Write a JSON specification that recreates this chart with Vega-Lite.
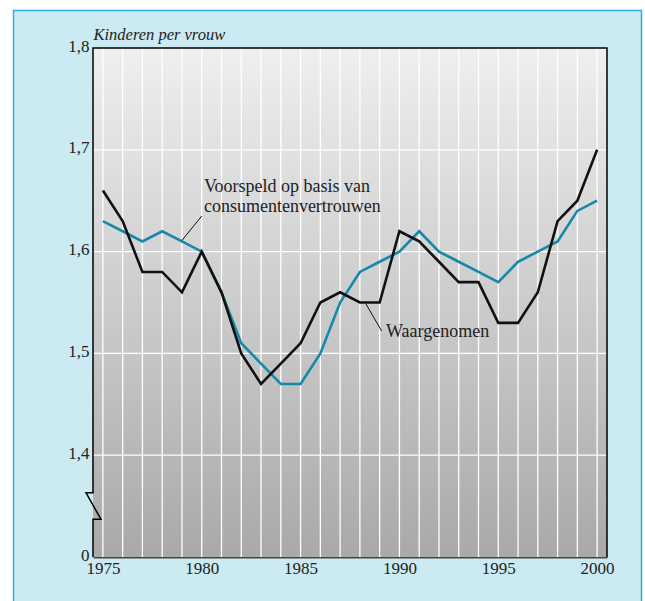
{
  "$schema": "https://vega.github.io/schema/vega-lite/v6.json",
  "width": 514,
  "height": 509,
  "autosize": "none",
  "padding": {"left": 93, "top": 48, "right": 38, "bottom": 44},
  "background": "#cbeaf2",
  "config": {
    "view": {"stroke": null},
    "axis": {"grid": false, "ticks": false, "labelFont": "Liberation Serif", "labelFontSize": 17, "labelColor": "#222222", "zindex": 1},
    "axisX": {"domainColor": "#444444", "domainWidth": 2.2, "labelPadding": 3},
    "axisY": {"domain": false, "labelPadding": 4}
  },
  "datasets": {
    "series": [
      {"year": 1975, "value": 1.63, "series": "Voorspeld"},
      {"year": 1976, "value": 1.62, "series": "Voorspeld"},
      {"year": 1977, "value": 1.61, "series": "Voorspeld"},
      {"year": 1978, "value": 1.62, "series": "Voorspeld"},
      {"year": 1979, "value": 1.61, "series": "Voorspeld"},
      {"year": 1980, "value": 1.60, "series": "Voorspeld"},
      {"year": 1981, "value": 1.56, "series": "Voorspeld"},
      {"year": 1982, "value": 1.51, "series": "Voorspeld"},
      {"year": 1983, "value": 1.49, "series": "Voorspeld"},
      {"year": 1984, "value": 1.47, "series": "Voorspeld"},
      {"year": 1985, "value": 1.47, "series": "Voorspeld"},
      {"year": 1986, "value": 1.50, "series": "Voorspeld"},
      {"year": 1987, "value": 1.55, "series": "Voorspeld"},
      {"year": 1988, "value": 1.58, "series": "Voorspeld"},
      {"year": 1989, "value": 1.59, "series": "Voorspeld"},
      {"year": 1990, "value": 1.60, "series": "Voorspeld"},
      {"year": 1991, "value": 1.62, "series": "Voorspeld"},
      {"year": 1992, "value": 1.60, "series": "Voorspeld"},
      {"year": 1993, "value": 1.59, "series": "Voorspeld"},
      {"year": 1994, "value": 1.58, "series": "Voorspeld"},
      {"year": 1995, "value": 1.57, "series": "Voorspeld"},
      {"year": 1996, "value": 1.59, "series": "Voorspeld"},
      {"year": 1997, "value": 1.60, "series": "Voorspeld"},
      {"year": 1998, "value": 1.61, "series": "Voorspeld"},
      {"year": 1999, "value": 1.64, "series": "Voorspeld"},
      {"year": 2000, "value": 1.65, "series": "Voorspeld"},
      {"year": 1975, "value": 1.66, "series": "Waargenomen"},
      {"year": 1976, "value": 1.63, "series": "Waargenomen"},
      {"year": 1977, "value": 1.58, "series": "Waargenomen"},
      {"year": 1978, "value": 1.58, "series": "Waargenomen"},
      {"year": 1979, "value": 1.56, "series": "Waargenomen"},
      {"year": 1980, "value": 1.60, "series": "Waargenomen"},
      {"year": 1981, "value": 1.56, "series": "Waargenomen"},
      {"year": 1982, "value": 1.50, "series": "Waargenomen"},
      {"year": 1983, "value": 1.47, "series": "Waargenomen"},
      {"year": 1984, "value": 1.49, "series": "Waargenomen"},
      {"year": 1985, "value": 1.51, "series": "Waargenomen"},
      {"year": 1986, "value": 1.55, "series": "Waargenomen"},
      {"year": 1987, "value": 1.56, "series": "Waargenomen"},
      {"year": 1988, "value": 1.55, "series": "Waargenomen"},
      {"year": 1989, "value": 1.55, "series": "Waargenomen"},
      {"year": 1990, "value": 1.62, "series": "Waargenomen"},
      {"year": 1991, "value": 1.61, "series": "Waargenomen"},
      {"year": 1992, "value": 1.59, "series": "Waargenomen"},
      {"year": 1993, "value": 1.57, "series": "Waargenomen"},
      {"year": 1994, "value": 1.57, "series": "Waargenomen"},
      {"year": 1995, "value": 1.53, "series": "Waargenomen"},
      {"year": 1996, "value": 1.53, "series": "Waargenomen"},
      {"year": 1997, "value": 1.56, "series": "Waargenomen"},
      {"year": 1998, "value": 1.63, "series": "Waargenomen"},
      {"year": 1999, "value": 1.65, "series": "Waargenomen"},
      {"year": 2000, "value": 1.70, "series": "Waargenomen"}
    ],
    "gridx": [
      {"year": 1975}, {"year": 1976}, {"year": 1977}, {"year": 1978}, {"year": 1979},
      {"year": 1980}, {"year": 1981}, {"year": 1982}, {"year": 1983}, {"year": 1984},
      {"year": 1985}, {"year": 1986}, {"year": 1987}, {"year": 1988}, {"year": 1989},
      {"year": 1990}, {"year": 1991}, {"year": 1992}, {"year": 1993}, {"year": 1994},
      {"year": 1995}, {"year": 1996}, {"year": 1997}, {"year": 1998}, {"year": 1999},
      {"year": 2000}
    ],
    "gridy": [{"value": 1.4}, {"value": 1.5}, {"value": 1.6}, {"value": 1.7}],
    "frame": [
      {"year": 1974.5, "value": 1.3, "order": 1},
      {"year": 1974.5, "value": 1.337, "order": 2},
      {"year": 1974.905, "value": 1.337, "order": 3},
      {"year": 1974.146, "value": 1.363, "order": 4},
      {"year": 1974.5, "value": 1.363, "order": 5},
      {"year": 1974.5, "value": 1.8, "order": 6},
      {"year": 2000.5, "value": 1.8, "order": 7},
      {"year": 2000.5, "value": 1.3, "order": 8}
    ],
    "leaders": [
      {"x": 1980.0, "y": 1.635, "x2": 1979.0, "y2": 1.611},
      {"x": 1988.31, "y": 1.5485, "x2": 1989.1, "y2": 1.522}
    ],
    "labels": [
      {"x": 1980.11, "y": 1.6583, "text": "Voorspeld op basis van\nconsumentenvertrouwen"},
      {"x": 1989.32, "y": 1.5158, "text": "Waargenomen"}
    ]
  },
  "layer": [
    {
      "data": {"values": [{}]},
      "mark": {"type": "rect", "fill": {"gradient": "linear", "x1": 0, "y1": 0, "x2": 0, "y2": 1, "stops": [{"offset": 0, "color": "#efefef"}, {"offset": 1, "color": "#a9a9a9"}]}},
      "encoding": {
        "x": {
          "datum": 1974.5, "type": "quantitative",
          "scale": {"domain": [1974.5, 2000.5], "nice": false, "zero": false},
          "axis": {"values": [1975, 1980, 1985, 1990, 1995, 2000], "format": "d", "title": null, "grid": false}
        },
        "x2": {"datum": 2000.5},
        "y": {
          "datum": 1.3, "type": "quantitative",
          "scale": {"domain": [1.3, 1.8], "nice": false, "zero": false},
          "axis": {
            "values": [1.3, 1.4, 1.5, 1.6, 1.7, 1.8],
            "labelExpr": "datum.value < 1.35 ? '0' : replace(format(datum.value, '.1f'), '.', ',')",
            "grid": false,
            "labelBaseline": "middle",
            "labelOffset": -2,
            "title": "Kinderen per vrouw",
            "titleAngle": 0,
            "titleAlign": "left",
            "titleBaseline": "alphabetic",
            "titleX": 0,
            "titleY": -9,
            "titleFont": "Liberation Serif",
            "titleFontStyle": "italic",
            "titleFontWeight": "normal",
            "titleFontSize": 16.5,
            "titleColor": "#222222"
          }
        },
        "y2": {"datum": 1.8}
      }
    },
    {
      "data": {"name": "gridx"},
      "mark": {"type": "rule", "color": "#ffffff", "strokeWidth": 1.3},
      "encoding": {"x": {"field": "year", "type": "quantitative"}}
    },
    {
      "data": {"name": "gridy"},
      "mark": {"type": "rule", "color": "#ffffff", "strokeWidth": 1.3},
      "encoding": {"y": {"field": "value", "type": "quantitative"}}
    },
    {
      "data": {"name": "frame"},
      "mark": {"type": "line", "color": "#000000", "strokeWidth": 1.5, "strokeJoin": "miter"},
      "encoding": {
        "x": {"field": "year", "type": "quantitative"},
        "y": {"field": "value", "type": "quantitative"},
        "order": {"field": "order", "type": "quantitative"}
      }
    },
    {
      "data": {"name": "series"},
      "transform": [{"filter": "datum.series === 'Voorspeld'"}],
      "mark": {"type": "line", "color": "#1688a9", "strokeWidth": 2.6, "strokeJoin": "miter"},
      "encoding": {
        "x": {"field": "year", "type": "quantitative"},
        "y": {"field": "value", "type": "quantitative"}
      }
    },
    {
      "data": {"name": "series"},
      "transform": [{"filter": "datum.series === 'Waargenomen'"}],
      "mark": {"type": "line", "color": "#111111", "strokeWidth": 2.6, "strokeJoin": "miter"},
      "encoding": {
        "x": {"field": "year", "type": "quantitative"},
        "y": {"field": "value", "type": "quantitative"}
      }
    },
    {
      "data": {"name": "leaders"},
      "mark": {"type": "rule", "color": "#111111", "strokeWidth": 1},
      "encoding": {
        "x": {"field": "x", "type": "quantitative"},
        "y": {"field": "y", "type": "quantitative"},
        "x2": {"field": "x2"},
        "y2": {"field": "y2"}
      }
    },
    {
      "data": {"name": "labels"},
      "mark": {"type": "text", "align": "left", "baseline": "alphabetic", "lineBreak": "\n", "lineHeight": 19.5, "font": "Liberation Serif", "fontSize": 18, "color": "#222222"},
      "encoding": {
        "x": {"field": "x", "type": "quantitative"},
        "y": {"field": "y", "type": "quantitative"},
        "text": {"field": "text", "type": "nominal"}
      }
    },
    {
      "data": {"values": [{}]},
      "mark": {"type": "rect", "fill": null, "stroke": "#ffffff", "strokeWidth": 30},
      "encoding": {
        "x": {"datum": 1969.72, "type": "quantitative"},
        "x2": {"datum": 2003.004},
        "y": {"datum": 1.0, "type": "quantitative"},
        "y2": {"datum": 1.8516}
      }
    },
    {
      "data": {"values": [{}]},
      "mark": {"type": "rect", "fill": null, "stroke": "#2bb0da", "strokeWidth": 1.5},
      "encoding": {
        "x": {"datum": 1970.479, "type": "quantitative"},
        "x2": {"datum": 2002.245},
        "y": {"datum": 1.0, "type": "quantitative"},
        "y2": {"datum": 1.8368}
      }
    }
  ]
}
